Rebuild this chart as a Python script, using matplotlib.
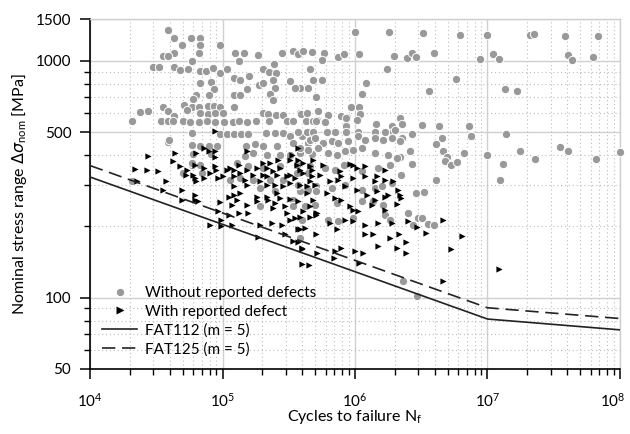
import numpy as np
import matplotlib
matplotlib.use("Agg")
import matplotlib.pyplot as plt
from matplotlib.lines import Line2D
from matplotlib.ticker import (FixedLocator, NullFormatter, LogLocator,
                               LogFormatterSciNotation, FuncFormatter)

plt.rcParams['font.family'] = ['Lato', 'DejaVu Sans']
plt.rcParams['font.size'] = 10.5
plt.rcParams['mathtext.fontset'] = 'dejavusans'

# Specimens without reported defects: (cycles, stress range in MPa)
plain = [
    # long lives / run-out region
    (1.0e6, 1320), (1.81e6, 1320), (3.24e6, 1305), (6.2e6, 1287), (1.0e7, 1287),
    (2.09e7, 1280), (2.26e7, 1300), (3.85e7, 1275), (6.8e7, 1275),
    (4.7e5, 1090), (5.8e5, 1080), (5.6e5, 1010), (7.5e5, 1040), (8.2e5, 1065),
    (1.08e6, 1065), (1.97e6, 1050), (2.45e6, 1030), (2.68e6, 1080), (2.89e6, 1035),
    (3.97e6, 1075), (8.8e6, 1020), (1.1e7, 1065), (1.23e7, 1020), (4.07e7, 1060),
    (4.37e7, 1012), (6.3e7, 1035), (4.6e5, 925), (1.73e6, 925), (4.8e5, 826),
    (5.6e5, 826), (3.85e5, 767), (4.4e5, 767), (5.8e6, 840), (1.21e6, 802),
    (1.13e6, 724), (3.6e6, 747), (1.36e7, 762), (1.68e7, 747), (5.3e5, 615),
    (6.2e5, 592), (9.4e5, 641), (1.08e6, 641), (7.9e5, 587), (8.7e5, 578),
    (1.09e6, 596), (4.3e5, 555), (5.2e5, 564), (8.5e5, 532), (1.04e6, 564),
    (1.44e6, 542), (1.89e6, 533), (2.19e6, 573), (2.27e6, 542), (3.18e6, 537),
    (4.28e6, 532), (7.2e6, 532), (7.5e6, 479), (1.38e7, 489), (2.28e6, 473),
    (2.68e6, 492), (4.5e6, 472), (4.08e6, 445), (4.6e6, 414), (4.97e6, 394),
    (4.8e6, 376), (5.3e6, 362), (5.9e6, 374), (6.6e6, 409), (9.9e6, 401),
    (2.59e6, 414), (2.19e6, 393), (2.7e6, 366), (1.32e7, 367), (1.77e7, 414),
    (2.27e7, 384), (3.53e7, 434), (4.04e7, 416), (6.6e7, 386), (1.0e8, 412),
    (2.24e6, 331), (4.12e6, 315), (1.25e7, 315), (2.89e6, 276), (3.3e6, 278),
    (2.5e6, 227), (2.97e6, 217), (3.18e6, 217), (3.54e6, 205), (3.93e6, 203),
    (2.72e6, 202), (2.3e6, 118), (2.96e6, 102), (3.85e5, 601),
    # short lives
    (3.85e4, 1355), (4.3e4, 1250), (4.9e4, 1170), (5.8e4, 1250), (6.8e4, 1250),
    (6.8e4, 1168), (9.5e4, 1168), (6.6e4, 1084), (5.9e4, 1000), (4.3e4, 1084),
    (3.53e4, 1043), (3.9e4, 1043), (1.25e5, 1084), (1.44e5, 1084), (1.34e5, 1000),
    (1.84e5, 1060), (2.8e5, 1078), (3.38e5, 1105), (3.7e5, 1067), (4.03e5, 1105),
    (3.0e4, 946), (3.33e4, 946), (4.3e4, 946), (4.78e4, 910), (5.5e4, 922),
    (6.7e4, 905), (7.5e4, 905), (8.5e4, 928), (9.5e4, 887), (1.08e5, 922),
    (1.21e5, 850), (1.36e5, 826), (1.59e5, 865), (2.03e5, 922), (2.26e5, 900),
    (2.45e5, 965), (2.53e5, 887), (3.23e5, 824), (3.52e5, 770), (6.7e4, 805),
    (8.2e4, 816), (8.6e4, 760), (7.9e4, 719), (6.3e4, 719), (6.0e4, 691),
    (5.85e4, 641), (6.6e4, 641), (7.7e4, 646), (8.6e4, 646), (9.5e4, 641),
    (1.21e5, 719), (1.36e5, 719), (1.52e5, 760), (1.9e5, 794), (2.03e5, 805),
    (2.39e5, 826), (2.49e5, 767), (2.28e5, 724), (2.42e5, 685), (5.1e5, 703),
    (2.06e4, 555), (2.38e4, 605), (2.73e4, 611), (3.53e4, 641), (3.9e4, 611),
    (4.3e4, 582), (5.15e4, 652), (5.36e4, 621), (6.8e4, 602), (7.8e4, 598),
    (8.8e4, 602), (1.0e5, 602), (1.21e5, 641), (3.41e4, 555), (3.85e4, 555),
    (4.25e4, 555), (5.0e4, 555), (5.7e4, 549), (6.6e4, 549), (7.6e4, 555),
    (8.8e4, 549), (1.03e5, 549), (1.19e5, 549), (1.34e5, 555), (1.52e5, 549),
    (1.79e5, 555), (2.03e5, 602), (2.22e5, 598), (2.53e5, 592), (2.26e5, 555),
    (2.88e5, 592), (3.05e5, 555), (3.38e5, 555), (3.91e5, 596), (4.32e5, 602),
    (4.84e5, 555), (5.9e4, 496), (3.9e4, 452), (9.5e4, 491), (1.08e5, 491),
    (1.21e5, 491), (1.37e5, 491), (1.57e5, 491), (2.12e5, 496), (2.49e5, 496),
    (2.88e5, 496), (3.23e5, 479), (3.96e5, 479), (4.84e5, 479), (6.8e4, 435),
    (7.9e4, 435), (9.1e4, 435), (1.5e5, 435), (1.76e5, 447), (2.03e5, 435),
    (2.56e5, 435), (3.42e5, 450), (4.44e5, 450), (6.0e4, 405), (8.2e4, 405),
    (1.48e5, 397), (1.71e5, 407), (2.18e5, 401), (2.72e5, 401), (3.23e5, 401),
    (3.84e5, 407), (4.7e5, 404), (5.85e4, 364), (6.8e4, 364), (1.28e5, 370),
    (1.57e5, 358), (2.03e5, 353), (2.72e5, 358), (3.63e5, 364), (4.57e5, 358),
    (5.05e4, 336), (7.0e4, 336), (1.14e5, 315), (1.36e5, 320), (1.71e5, 315),
    (2.28e5, 315), (2.88e5, 315), (3.63e5, 336), (4.44e5, 336), (1.92e5, 290),
    (2.5e5, 281), (3.42e5, 259), (3.84e5, 281), (5.1e5, 295), (1.92e5, 243),
    (3.42e5, 243), (3.95e4, 465), (5.85e4, 439), (2.06e4, 310), (5.85e4, 370),
    (3.84e5, 179),
    # dense band around 1e6 cycles
    (3.73e5, 498), (4.32e5, 498), (4.84e5, 498), (6.1e5, 498), (7.1e5, 498),
    (8.6e5, 498), (1.06e6, 498), (1.42e6, 498), (1.68e6, 498), (1.95e6, 498),
    (8.6e5, 573), (5.1e5, 559), (5.9e5, 551), (2.0e6, 512), (4.57e5, 465),
    (5.0e5, 472), (5.75e5, 450), (6.7e5, 457), (7.5e5, 450), (8.9e5, 457),
    (1.06e6, 479), (1.19e6, 465), (1.42e6, 472), (1.63e6, 465), (1.89e6, 472),
    (2.19e6, 457), (3.84e5, 429), (4.44e5, 421), (5.3e5, 429), (6.3e5, 407),
    (7.3e5, 401), (8.4e5, 414), (9.7e5, 421), (1.12e6, 429), (1.42e6, 407),
    (1.78e6, 401), (2.06e6, 389), (5.9e5, 353), (7.1e5, 347), (8.3e5, 364),
    (1.12e6, 341), (1.5e6, 353), (1.84e6, 364), (3.73e5, 300), (4.44e5, 286),
    (5.1e5, 281), (6.7e5, 290), (8.4e5, 300), (1.12e6, 286), (1.42e6, 290),
    (1.59e6, 295), (1.89e6, 305), (4.19e5, 243), (5.0e5, 247), (7.3e5, 251),
    (1.12e6, 255), (1.37e6, 255), (1.63e6, 247), (3.96e5, 213), (6.3e5, 213),
    (7.5e5, 210), (9.7e5, 216), (1.68e6, 224), (1.84e6, 213),
]

# Specimens with reported defect
defect = [
    (8.8e4, 504), (2.75e4, 397), (4.25e4, 376), (4.38e4, 407), (6.3e4, 407),
    (7.3e4, 429), (7.9e4, 414), (8.8e4, 418), (8.8e4, 394), (1.52e5, 414),
    (2.19e4, 349), (2.68e4, 347), (3.28e4, 344), (4.78e4, 358), (5.36e4, 347),
    (6.2e4, 364), (7.2e4, 353), (9.0e4, 347), (1.08e5, 347), (1.21e5, 347),
    (1.32e5, 364), (1.52e5, 347), (1.81e5, 353), (2.03e5, 370), (2.15e5, 353),
    (2.42e5, 341), (2.72e5, 353), (3.23e5, 382), (3.63e5, 364), (4.07e5, 370),
    (4.84e5, 382), (5.3e4, 330), (6.0e4, 330), (8.1e4, 336), (1.01e5, 327),
    (1.36e5, 336), (1.71e5, 330), (2.03e5, 330), (2.56e5, 330), (3.23e5, 330),
    (4.07e5, 336), (4.7e5, 347), (2.25e4, 310), (3.72e4, 310), (6.2e4, 320),
    (7.2e4, 320), (1.21e5, 295), (1.52e5, 300), (1.92e5, 310), (2.15e5, 300),
    (2.88e5, 295), (3.23e5, 305), (3.84e5, 300), (4.57e5, 310), (3.57e4, 286),
    (4.93e4, 286), (6.2e4, 272), (6.5e4, 255), (9.5e4, 253), (1.21e5, 272),
    (1.28e5, 259), (1.81e5, 267), (2.22e5, 259), (2.72e5, 263), (3.23e5, 261),
    (4.32e5, 276), (4.84e5, 259), (1.33e5, 228), (1.55e5, 228), (3.05e5, 228),
    (4.07e5, 232), (5.05e5, 228), (6.3e4, 310), (4.93e4, 259), (6.2e4, 259),
    (8.8e4, 358), (1.14e5, 353), (2.28e5, 370), (2.64e5, 382), (3.33e5, 401),
    (3.73e5, 429), (9.3e4, 320), (1.21e5, 325), (1.48e5, 315), (2.15e5, 325),
    (2.49e5, 300), (3.05e5, 325), (3.52e5, 320), (1.36e5, 276), (1.11e5, 267),
    (2.15e5, 267), (2.56e5, 276), (1.17e5, 247), (1.52e5, 247), (1.81e5, 255),
    (2.49e5, 251), (2.96e5, 243), (9.3e4, 232), (1.11e5, 224), (1.92e5, 203),
    (2.35e5, 207), (2.8e5, 203), (3.23e5, 213), (3.52e5, 217), (8.1e4, 203),
    (9.8e4, 200), (1.17e5, 202), (1.86e5, 181), (2.96e5, 185), (3.42e5, 173),
    (3.96e5, 162), (9.8e4, 213), (3.96e5, 138), (4.5e5, 137), (3.84e5, 194),
    (2.42e5, 239), (3.84e5, 220), (3.73e5, 382), (4.57e5, 358), (5.75e5, 364),
    (7.7e5, 341), (9.7e5, 364), (1.19e6, 358), (3.84e5, 347), (4.7e5, 325),
    (5.4e5, 330), (6.5e5, 310), (7.9e5, 325), (9.7e5, 320), (1.19e6, 325),
    (1.42e6, 310), (1.68e6, 315), (1.95e6, 310), (4.32e5, 295), (5.0e5, 300),
    (6.1e5, 276), (7.1e5, 263), (8.4e5, 295), (1.03e6, 286), (1.23e6, 272),
    (1.46e6, 281), (1.78e6, 272), (3.73e5, 255), (4.57e5, 243), (5.2e5, 228),
    (7.9e5, 259), (9.2e5, 243), (1.06e6, 232), (1.34e6, 247), (1.68e6, 235),
    (4.57e5, 220), (5.1e5, 224), (6.5e5, 207), (8.4e5, 213), (9.7e5, 210),
    (1.19e6, 203), (1.5e6, 207), (1.89e6, 207), (3.73e5, 194), (4.19e5, 197),
    (5.1e5, 185), (7.3e5, 194), (1.19e6, 185), (1.37e6, 185), (1.84e6, 179),
    (3.96e5, 160), (5.2e5, 154), (7.1e5, 157), (1.15e6, 154), (1.5e6, 165),
    (3.73e5, 171), (2.42e6, 171), (2.42e6, 154), (2.06e6, 162), (1.0e6, 157),
    (7.8e5, 162), (7.0e5, 147), (1.07e6, 140), (4.6e6, 213), (6.4e6, 182),
    (5.3e6, 161), (4.6e6, 118), (1.23e7, 132), (2.12e6, 286), (2.24e6, 264),
    (2.06e6, 249), (2.5e6, 210), (2.95e6, 199), (3.44e6, 188), (2.15e6, 185),
    (9.2e5, 367), (1.03e6, 353), (1.47e6, 325), (1.68e6, 347), (2.19e6, 272),
    (1.68e6, 267), (1.42e6, 259), (9.7e5, 235), (7.5e5, 315),
]

# FAT design curves (knee at 1e7 cycles)
fat_cycles = [1e4, 1e7, 1e8]
fat112_stress = [323, 81.2, 73.1]
fat125_stress = [361, 90.6, 81.6]

plain_n, plain_s = np.array(plain).T
defect_n, defect_s = np.array(defect).T

fig = plt.figure(figsize=(6.3, 4.34), dpi=100)
ax = fig.add_axes([0.143, 0.150, 0.841, 0.806])

ax.scatter(plain_n, plain_s, s=36, c='#999999', edgecolors='white',
           linewidths=0.7, zorder=3, clip_on=False)
ax.scatter(defect_n, defect_s, s=20, c='black', marker='>', linewidths=0,
           zorder=4)
ax.plot(fat_cycles, fat112_stress, color='#222222', lw=1.2, zorder=5)
ax.plot(fat_cycles, fat125_stress, color='#222222', lw=1.2,
        dashes=(8, 4), zorder=5)

ax.set_xscale('log')
ax.set_yscale('log')
ax.set_xlim(1e4, 1e8)
ax.set_ylim(50, 1500)

ax.yaxis.set_major_locator(FixedLocator([50, 100, 500, 1000, 1500]))
ax.yaxis.set_minor_locator(FixedLocator([60, 70, 80, 90, 200, 300, 400,
                                         600, 700, 800, 900]))
ax.yaxis.set_major_formatter(FuncFormatter(lambda v, p: f"{v:g}"))
ax.yaxis.set_minor_formatter(NullFormatter())

# the 1e8 label sits at the canvas edge, so it is drawn separately below
sci = LogFormatterSciNotation()
ax.xaxis.set_major_locator(LogLocator(base=10, numticks=10))
ax.xaxis.set_major_formatter(FuncFormatter(lambda v, p: '' if v >= 1e8 else sci(v, p)))
ax.xaxis.set_minor_locator(LogLocator(base=10, subs=np.arange(2, 10), numticks=20))
ax.xaxis.set_minor_formatter(NullFormatter())

ax.tick_params(which='major', direction='out', length=7.5, width=1.1, pad=6,
               labelsize=11)
ax.tick_params(which='minor', direction='out', length=4, width=1.0)
ax.tick_params(axis='x', which='major', pad=9)

ax.annotate(r'$\mathdefault{10^{8}}$', xy=(1, 0), xycoords='axes fraction',
            xytext=(-5, -16.5), textcoords='offset points',
            ha='center', va='top', fontsize=11)

ax.grid(which='major', color='#d0d0d0', lw=1.0, ls='-', zorder=0)
ax.grid(which='minor', color='#bdbdbd', lw=0.8, ls=(0, (1, 2.5)), zorder=0)
ax.set_axisbelow(True)

for side in ('left', 'bottom'):
    ax.spines[side].set_color('black')
    ax.spines[side].set_linewidth(1.2)
for side in ('top', 'right'):
    ax.spines[side].set_color('#d0d0d0')
    ax.spines[side].set_linewidth(1.0)

ax.set_xlabel(r'Cycles to failure N$_\mathregular{f}$', fontsize=11.5, labelpad=-1)
ax.set_ylabel(r'Nominal stress range $\Delta\sigma_\mathregular{nom}$ [MPa]',
              fontsize=11.5, labelpad=5)

handles = [
    Line2D([], [], ls='none', marker='o', ms=6, mfc='#999999', mec='white', mew=0.7),
    Line2D([], [], ls='none', marker='>', ms=5.5, mfc='black', mec='none'),
    Line2D([], [], color='#222222', lw=1.2),
    Line2D([], [], color='#222222', lw=1.2, dashes=(8, 4)),
]
labels = ['Without reported defects', 'With reported defect',
          'FAT112 (m = 5)', 'FAT125 (m = 5)']
ax.legend(handles, labels, loc='lower left', frameon=False, fontsize=11,
          handlelength=2.3, handletextpad=0.5, labelspacing=0.3,
          borderaxespad=0.4)

fig.savefig('out.png', dpi=100)
